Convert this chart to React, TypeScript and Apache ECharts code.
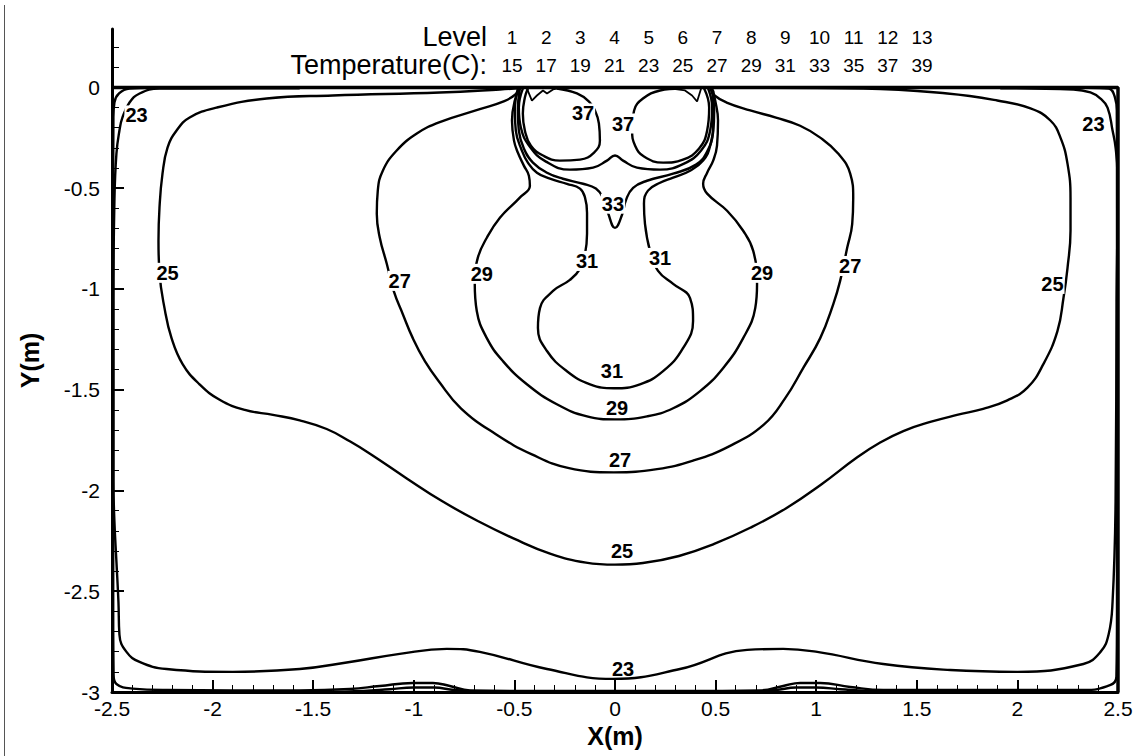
import React, { useEffect, useRef } from "react";
import * as echarts from "echarts";

const FONT = '"Liberation Sans", Arial, Helvetica, sans-serif';

// Legend table
const LEVELS = [1, 2, 3, 4, 5, 6, 7, 8, 9, 10, 11, 12, 13];
const TEMPERATURES = [15, 17, 19, 21, 23, 25, 27, 29, 31, 33, 35, 37, 39];

// Tick labels
const X_TICKS = [-2.5, -2, -1.5, -1, -0.5, 0, 0.5, 1, 1.5, 2, 2.5];
const Y_TICKS = [-3, -2.5, -2, -1.5, -1, -0.5, 0];

// Domain boundary (top wall and right wall)
const BOUNDARY: number[][] = [[-2.5, 0], [2.5, 0], [2.5, -3]];

// Contour lines, [x (m), y (m)]
const CONTOUR_19_LEFT: number[][] = [
  [-1.45, -3.0], [-1.25, -2.995], [-1.12, -2.986], [-1.0, -2.978], [-0.9, -2.978], [-0.8, -2.99], [-0.65, -3.0],
];
const CONTOUR_19_RIGHT: number[][] = [
  [0.65, -3.0], [0.8, -2.99], [0.9, -2.978], [1.0, -2.978], [1.12, -2.986], [1.25, -2.995], [1.45, -3.0],
];

const CONTOUR_21: number[][] = [
  [-2.3, -0.002], [-2.413, -0.006], [-2.465, -0.03], [-2.488, -0.075], [-2.493, -0.15], [-2.494, -0.6],
  [-2.494, -2.6], [-2.492, -2.915], [-2.478, -2.96], [-2.398, -2.983], [-2.229, -2.99], [-1.567, -2.992],
  [-1.318, -2.985], [-1.169, -2.97], [-1.005, -2.955], [-0.905, -2.955], [-0.821, -2.97], [-0.721, -2.992],
  [-0.323, -2.995], [0.323, -2.995], [0.721, -2.992], [0.836, -2.97], [0.92, -2.955], [1.02, -2.955],
  [1.169, -2.975], [1.333, -2.99], [2.328, -2.99], [2.463, -2.965], [2.492, -2.925], [2.495, -2.6],
  [2.495, -0.6], [2.494, -0.115], [2.485, -0.05], [2.453, -0.006], [2.35, -0.002],
];

const CONTOUR_23: number[][] = [
  [-1.567, -0.004], [-2.264, -0.006], [-2.363, -0.03], [-2.413, -0.075], [-2.448, -0.149], [-2.463, -0.214],
  [-2.478, -0.328], [-2.488, -0.562], [-2.493, -1.06], [-2.493, -1.955], [-2.488, -2.154], [-2.478, -2.353],
  [-2.468, -2.552], [-2.463, -2.716], [-2.428, -2.801], [-2.363, -2.851], [-2.229, -2.886], [-1.9, -2.9],
  [-1.567, -2.886], [-1.318, -2.851], [-1.07, -2.811], [-0.836, -2.786], [-0.672, -2.801], [-0.338, -2.886],
  [-0.01, -2.935], [0.323, -2.886], [0.657, -2.791], [0.836, -2.786], [1.005, -2.801], [1.333, -2.861],
  [1.667, -2.891], [2.0, -2.9], [2.328, -2.861], [2.413, -2.801], [2.453, -2.716], [2.473, -2.552],
  [2.488, -2.055], [2.493, -1.06], [2.497, -0.627], [2.497, -0.428], [2.488, -0.299], [2.473, -0.214],
  [2.448, -0.1], [2.413, -0.055], [2.363, -0.025], [2.279, -0.01], [1.915, -0.004],
];

const CONTOUR_25: number[][] = [
  [-0.47, -0.003], [-0.572, -0.01], [-0.871, -0.025], [-1.403, -0.04], [-1.731, -0.055], [-1.98, -0.1],
  [-2.114, -0.149], [-2.179, -0.214], [-2.224, -0.299], [-2.249, -0.428], [-2.264, -0.597], [-2.269, -0.761],
  [-2.264, -0.92], [-2.239, -1.095], [-2.204, -1.244], [-2.149, -1.373], [-2.065, -1.473], [-1.965, -1.55],
  [-1.84, -1.6], [-1.70, -1.625], [-1.567, -1.652], [-1.433, -1.695], [-1.318, -1.756], [-1.214, -1.82],
  [-1.035, -1.94], [-0.856, -2.055], [-0.677, -2.154], [-0.502, -2.239], [-0.323, -2.313], [-0.144, -2.358],
  [0, -2.368], [0.139, -2.36], [0.318, -2.325], [0.493, -2.265], [0.672, -2.185], [0.851, -2.088],
  [1.025, -1.97], [1.204, -1.835], [1.318, -1.762], [1.433, -1.705], [1.567, -1.66], [1.70, -1.625],
  [1.83, -1.595], [1.95, -1.553], [2.05, -1.49], [2.129, -1.373], [2.199, -1.209], [2.229, -1.045],
  [2.249, -0.896], [2.264, -0.711], [2.264, -0.547], [2.249, -0.378], [2.214, -0.249], [2.164, -0.164],
  [2.065, -0.104], [1.9, -0.065], [1.652, -0.03], [1.234, -0.005], [0.75, -0.002],
];

const CONTOUR_27: number[][] = [
  [-0.473, -0.005], [-0.495, -0.035], [-0.55, -0.068], [-0.672, -0.108], [-0.871, -0.172], [-0.985, -0.229],
  [-1.085, -0.313], [-1.154, -0.413], [-1.179, -0.512], [-1.184, -0.627], [-1.169, -0.746], [-1.134, -0.876],
  [-1.1, -1.01], [-1.055, -1.124], [-1.005, -1.244], [-0.945, -1.358], [-0.876, -1.458], [-0.766, -1.592],
  [-0.592, -1.721], [-0.413, -1.821], [-0.234, -1.888], [-0.005, -1.91], [0.209, -1.894], [0.388, -1.852],
  [0.567, -1.781], [0.741, -1.672], [0.846, -1.542], [0.935, -1.393], [1.02, -1.244], [1.085, -1.075],
  [1.119, -0.96], [1.154, -0.796], [1.179, -0.677], [1.184, -0.547], [1.169, -0.428], [1.109, -0.328],
  [1.02, -0.249], [0.92, -0.19], [0.8, -0.15], [0.672, -0.114], [0.555, -0.075], [0.495, -0.04],
  [0.473, -0.005],
];

const CONTOUR_29: number[][] = [
  [-0.473, -0.005], [-0.498, -0.065], [-0.512, -0.164], [-0.502, -0.264], [-0.483, -0.323], [-0.453, -0.388],
  [-0.428, -0.438], [-0.423, -0.488], [-0.473, -0.547], [-0.572, -0.647], [-0.637, -0.746], [-0.682, -0.846],
  [-0.697, -0.975], [-0.687, -1.109], [-0.637, -1.244], [-0.557, -1.358], [-0.438, -1.473], [-0.289, -1.572],
  [-0.139, -1.632], [0, -1.647], [0.159, -1.632], [0.289, -1.592], [0.423, -1.507], [0.537, -1.393],
  [0.637, -1.244], [0.697, -1.095], [0.706, -0.975], [0.687, -0.811], [0.637, -0.711], [0.557, -0.612],
  [0.458, -0.527], [0.438, -0.478], [0.458, -0.423], [0.488, -0.363], [0.507, -0.289], [0.512, -0.164],
  [0.498, -0.065], [0.483, -0.005],
];

const CONTOUR_31: number[][] = [
  [-0.483, -0.005], [-0.498, -0.114], [-0.493, -0.214], [-0.463, -0.313], [-0.433, -0.373], [-0.388, -0.423],
  [-0.323, -0.453], [-0.239, -0.478], [-0.174, -0.502], [-0.149, -0.547], [-0.139, -0.622], [-0.139, -0.726],
  [-0.149, -0.826], [-0.174, -0.9], [-0.224, -0.955], [-0.308, -1.01], [-0.373, -1.095], [-0.383, -1.194],
  [-0.338, -1.308], [-0.239, -1.408], [-0.124, -1.473], [-0.005, -1.493], [0.124, -1.473], [0.239, -1.408],
  [0.338, -1.294], [0.388, -1.159], [0.373, -1.045], [0.289, -0.975], [0.214, -0.91], [0.174, -0.811],
  [0.149, -0.677], [0.144, -0.577], [0.164, -0.512], [0.224, -0.473], [0.289, -0.448], [0.373, -0.413],
  [0.438, -0.363], [0.473, -0.289], [0.488, -0.164], [0.488, -0.015],
];

const CONTOUR_33: number[][] = [
  [-0.473, -0.005], [-0.483, -0.114], [-0.478, -0.214], [-0.453, -0.303], [-0.408, -0.373], [-0.338, -0.423],
  [-0.259, -0.453], [-0.159, -0.478], [-0.095, -0.502], [-0.06, -0.547], [-0.035, -0.622], [0, -0.697],
  [0.035, -0.632], [0.055, -0.557], [0.09, -0.498], [0.159, -0.463], [0.289, -0.428], [0.403, -0.383],
  [0.458, -0.318], [0.488, -0.219], [0.493, -0.114], [0.478, -0.005],
];

const CONTOUR_35: number[][] = [
  [-0.458, -0.005], [-0.478, -0.1], [-0.468, -0.199], [-0.423, -0.294], [-0.343, -0.368], [-0.224, -0.408],
  [-0.109, -0.398], [-0.04, -0.363], [0, -0.338], [0.04, -0.363], [0.109, -0.398], [0.224, -0.408],
  [0.343, -0.378], [0.428, -0.313], [0.473, -0.214], [0.483, -0.1], [0.463, -0.005],
];

const CONTOUR_37_LEFT: number[][] = [
  [-0.433, -0.005], [-0.448, -0.05], [-0.458, -0.129], [-0.448, -0.214], [-0.418, -0.289], [-0.358, -0.338],
  [-0.274, -0.363], [-0.174, -0.358], [-0.104, -0.323], [-0.075, -0.264], [-0.08, -0.179], [-0.1, -0.114],
  [-0.129, -0.07], [-0.189, -0.03], [-0.289, -0.005],
];

const CONTOUR_37_RIGHT: number[][] = [
  [0.323, -0.005], [0.224, -0.015], [0.139, -0.055], [0.095, -0.114], [0.085, -0.214], [0.1, -0.289],
  [0.144, -0.343], [0.239, -0.373], [0.338, -0.358], [0.418, -0.303], [0.458, -0.214], [0.468, -0.1],
  [0.443, -0.005],
];

const CONTOUR_39_LEFT: number[][] = [
  [-0.438, -0.005], [-0.413, -0.065], [-0.388, -0.04], [-0.358, -0.015], [-0.338, -0.03], [-0.308, -0.01], [-0.284, -0.005],
];
const CONTOUR_39_RIGHT: number[][] = [
  [0.274, -0.005], [0.348, -0.015], [0.383, -0.04], [0.408, -0.07], [0.428, -0.005],
];

// Contour labels [x, y, text]
const INLINE_LABELS: (number | string)[][] = [
  [-2.378, -0.139, "23"], [2.378, -0.179, "23"],
  [-2.224, -0.92, "25"], [2.174, -0.975, "25"],
  [-1.07, -0.96, "27"], [1.169, -0.886, "27"],
  [-0.662, -0.925, "29"], [0.731, -0.92, "29"],
  [-0.139, -0.861, "31"], [0.224, -0.846, "31"],
  [-0.01, -0.577, "33"],
  [-0.159, -0.129, "37"], [0.04, -0.179, "37"],
];
const ABOVE_LINE_LABELS: (number | string)[][] = [
  [0.04, -2.885, "23"], [0.035, -2.3, "25"], [0.025, -1.85, "27"], [0.01, -1.592, "29"], [-0.015, -1.408, "31"],
];

const CONTOURS: number[][][] = [
  CONTOUR_19_LEFT, CONTOUR_19_RIGHT, CONTOUR_21, CONTOUR_23, CONTOUR_25, CONTOUR_27,
  CONTOUR_29, CONTOUR_31, CONTOUR_33, CONTOUR_35, CONTOUR_37_LEFT, CONTOUR_37_RIGHT,
];

export default function App() {
  const ref = useRef<HTMLDivElement>(null);

  useEffect(() => {
    if (!ref.current) return;
    const chart = echarts.init(ref.current, null, { renderer: "svg" });

    const contourSeries = CONTOURS.map((d) => ({
      type: "line",
      data: d,
      smooth: 0.45,
      symbol: "none",
      silent: true,
      z: 2,
      lineStyle: { color: "#000", width: 2.4 },
    }));
    const notchSeries = [CONTOUR_39_LEFT, CONTOUR_39_RIGHT].map((d) => ({
      type: "line",
      data: d,
      smooth: false,
      symbol: "none",
      silent: true,
      z: 2,
      lineStyle: { color: "#000", width: 1.8 },
    }));

    const labelStyle = {
      show: true,
      position: "inside",
      formatter: (p: any) => String(p.data[2]),
      fontFamily: FONT,
      fontWeight: "bold",
      fontSize: 20,
      color: "#000",
      textBorderWidth: 0,
      textBorderColor: "transparent",
      opacity: 1,
    };

    const legendTexts: any[] = [
      {
        type: "text",
        x: 487,
        y: 37,
        style: { text: "Level", align: "right", verticalAlign: "middle", fontSize: 27, fontFamily: FONT, fill: "#000" },
      },
      {
        type: "text",
        x: 487,
        y: 65,
        style: { text: "Temperature(C):", align: "right", verticalAlign: "middle", fontSize: 27, fontFamily: FONT, fill: "#000" },
      },
      ...LEVELS.map((lv, i) => ({
        type: "text",
        x: 512 + i * 34.17,
        y: 37,
        style: { text: String(lv), align: "center", verticalAlign: "middle", fontSize: 19, fontFamily: FONT, fill: "#000" },
      })),
      ...TEMPERATURES.map((t, i) => ({
        type: "text",
        x: 512 + i * 34.17,
        y: 65,
        style: { text: String(t), align: "center", verticalAlign: "middle", fontSize: 19, fontFamily: FONT, fill: "#000" },
      })),
      {
        type: "line",
        shape: { x1: 4.5, y1: 5, x2: 4.5, y2: 756 },
        style: { stroke: "#555", lineWidth: 1 },
      },
    ];

    chart.setOption({
      animation: false,
      backgroundColor: "#fff",
      grid: { left: 112, right: 28, top: 29, bottom: 64, containLabel: false },
      xAxis: {
        type: "value",
        min: -2.5,
        max: 2.5,
        interval: 0.5,
        name: "X(m)",
        nameLocation: "middle",
        nameGap: 30,
        nameTextStyle: { fontSize: 25, fontWeight: "bold", color: "#000", fontFamily: FONT },
        axisLine: { show: true, onZero: false, lineStyle: { color: "#000", width: 3 } },
        axisTick: { show: true, inside: true, length: 12, lineStyle: { color: "#000", width: 2 }, customValues: X_TICKS },
        minorTick: { show: true, splitNumber: 5, length: 7, lineStyle: { color: "#000", width: 1 } },
        axisLabel: { fontSize: 21, color: "#000", fontFamily: FONT, margin: 6, customValues: X_TICKS },
        splitLine: { show: false },
      },
      yAxis: {
        type: "value",
        min: -3,
        max: 0.29,
        interval: 0.5,
        name: "Y(m)",
        nameLocation: "middle",
        nameGap: 70,
        nameRotate: 90,
        nameTextStyle: { fontSize: 25, fontWeight: "bold", color: "#000", fontFamily: FONT },
        axisLine: { show: true, onZero: false, lineStyle: { color: "#000", width: 3 } },
        axisTick: { show: true, inside: true, length: 12, lineStyle: { color: "#000", width: 2 }, customValues: Y_TICKS },
        minorTick: { show: true, splitNumber: 5, length: 7, lineStyle: { color: "#000", width: 1 } },
        axisLabel: { fontSize: 21, color: "#000", fontFamily: FONT, margin: 12, customValues: Y_TICKS },
        splitLine: { show: false },
      },
      graphic: legendTexts,
      series: [
        ...contourSeries,
        ...notchSeries,
        {
          type: "line",
          data: BOUNDARY,
          symbol: "none",
          silent: true,
          z: 3,
          lineStyle: { color: "#000", width: 3.5 },
        },
        {
          type: "scatter",
          data: INLINE_LABELS,
          symbolSize: 1,
          itemStyle: { color: "rgba(0,0,0,0)" },
          silent: true,
          z: 10,
          label: { ...labelStyle, backgroundColor: "#fff", padding: [0, 1] },
        },
        {
          type: "scatter",
          data: ABOVE_LINE_LABELS,
          symbolSize: 1,
          itemStyle: { color: "rgba(0,0,0,0)" },
          silent: true,
          z: 10,
          label: labelStyle,
        },
      ],
    });

    return () => chart.dispose();
  }, []);

  return (
    <div
      ref={ref}
      style={{ position: "absolute", left: 0, top: 0, width: 1146, height: 756, background: "#fff" }}
    />
  );
}
